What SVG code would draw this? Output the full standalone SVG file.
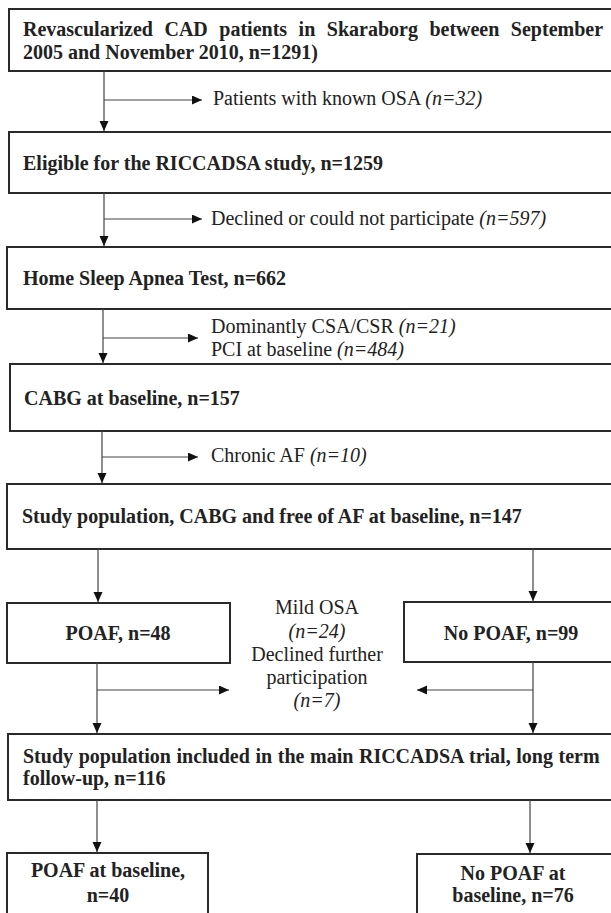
<svg xmlns="http://www.w3.org/2000/svg" width="611" height="913" viewBox="0 0 611 913">
<style>
.box{fill:#fff;stroke:#2a2a2a;stroke-width:2}
.b{font-family:"Liberation Serif","Times New Roman",serif;font-weight:bold;font-size:20px;fill:#222}
.r{font-family:"Liberation Serif","Times New Roman",serif;font-size:20px;fill:#222}
.i{font-style:italic}
.c{text-anchor:middle}
.ln{fill:none;stroke:#444;stroke-width:1.2}
.arr{marker-end:url(#ah)}
</style>
<defs>
<marker id="ah" markerUnits="userSpaceOnUse" markerWidth="11" markerHeight="10" refX="10" refY="4.5" orient="auto">
<path d="M0,0 L10,4.5 L0,9 z" fill="#111"/>
</marker>
</defs>
<rect width="611" height="913" fill="#fff"/>

<g id="n1">
<rect class="box" x="9" y="9" width="620" height="62"/>
<text class="b" x="23" y="36" word-spacing="6.5">Revascularized CAD patients in Skaraborg between September</text>
<text class="b" x="23" y="59">2005 and November 2010, n=1291)</text>
</g>
<g id="x1"><text class="r" x="213" y="105">Patients with known OSA <tspan class="i">(n=32)</tspan></text></g>

<g id="n2">
<rect class="box" x="9" y="132" width="620" height="61"/>
<text class="b" x="23" y="170">Eligible for the RICCADSA study, n=1259</text>
</g>
<g id="x2"><text class="r" x="211" y="225">Declined or could not participate <tspan class="i">(n=597)</tspan></text></g>

<g id="n3">
<rect class="box" x="7" y="247" width="620" height="62"/>
<text class="b" x="23" y="285">Home Sleep Apnea Test, n=662</text>
</g>
<g id="x3">
<text class="r" x="211" y="333">Dominantly CSA/CSR <tspan class="i">(n=21)</tspan></text>
<text class="r" x="211" y="356">PCI at baseline <tspan class="i">(n=484)</tspan></text>
</g>

<g id="n4">
<rect class="box" x="10" y="364" width="620" height="67"/>
<text class="b" x="24" y="405">CABG at baseline, n=157</text>
</g>
<g id="x4"><text class="r" x="211" y="462">Chronic AF <tspan class="i">(n=10)</tspan></text></g>

<g id="n5">
<rect class="box" x="7" y="484" width="620" height="65"/>
<text class="b" x="22" y="523">Study population, CABG and free of AF at baseline, n=147</text>
</g>

<g id="n6">
<rect class="box" x="7" y="603" width="223" height="60"/>
<text class="b c" x="118" y="640">POAF, n=48</text>
</g>
<g id="n7">
<rect class="box" x="404" y="602" width="220" height="60"/>
<text class="b c" x="511" y="640">No POAF, n=99</text>
</g>
<g id="x5">
<text class="r c" x="317" y="614">Mild OSA</text>
<text class="r c i" x="317" y="638">(n=24)</text>
<text class="r c" x="317" y="661">Declined further</text>
<text class="r c" x="317" y="684">participation</text>
<text class="r c i" x="317" y="707">(n=7)</text>
</g>

<g id="n8">
<rect class="box" x="8" y="734" width="620" height="66"/>
<text class="b" x="23" y="763" word-spacing="0.6">Study population included in the main RICCADSA trial, long term</text>
<text class="b" x="23" y="785">follow-up, n=116</text>
</g>

<g id="n9">
<rect class="box" x="7" y="853" width="201" height="80"/>
<text class="b c" x="108" y="877">POAF at baseline,</text>
<text class="b c" x="108" y="902">n=40</text>
</g>
<g id="n10">
<rect class="box" x="417" y="854" width="210" height="80"/>
<text class="b c" x="513" y="880">No POAF at</text>
<text class="b c" x="513" y="902">baseline, n=76</text>
</g>

<g id="connectors">
<path class="ln arr" d="M104,71 V131"/>
<path class="ln arr" d="M104,100 H202"/>
<path class="ln arr" d="M104,193 V246"/>
<path class="ln arr" d="M104,219 H202"/>
<path class="ln arr" d="M103,309 V363"/>
<path class="ln arr" d="M103,338 H198"/>
<path class="ln arr" d="M102,431 V483"/>
<path class="ln arr" d="M102,457 H198"/>
<path class="ln arr" d="M98,549 V602"/>
<path class="ln arr" d="M533,549 V601"/>
<path class="ln arr" d="M97,663 V733"/>
<path class="ln arr" d="M97,690 H229"/>
<path class="ln arr" d="M533,662 V733"/>
<path class="ln arr" d="M533,690 H417"/>
<path class="ln arr" d="M97,800 V852"/>
<path class="ln arr" d="M530,800 V853"/>
</g>
</svg>
